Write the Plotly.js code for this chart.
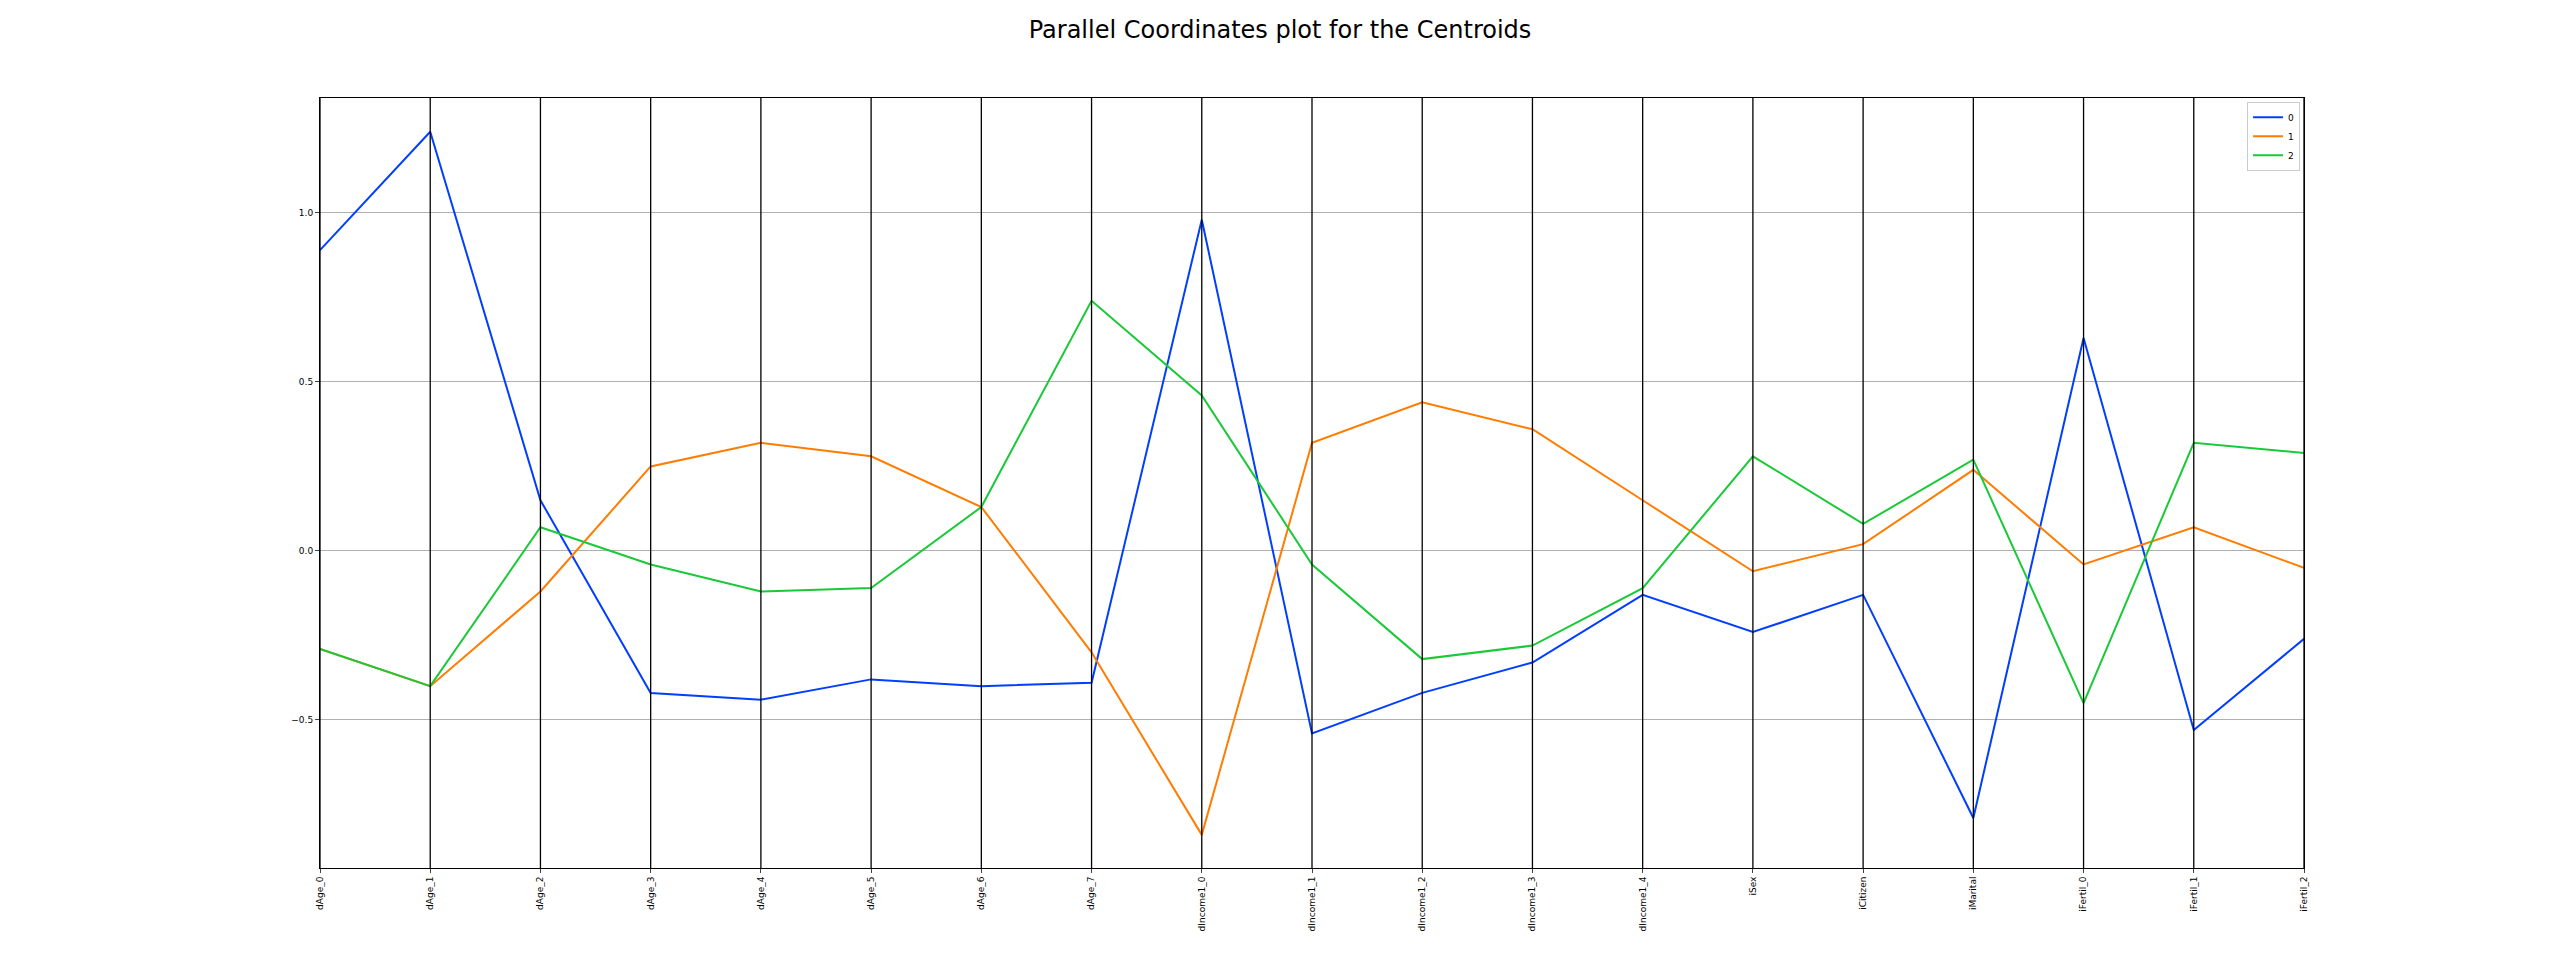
<!DOCTYPE html>
<html><head><meta charset="utf-8">
<script src="https://cdn.plot.ly/plotly-3.0.1.min.js"></script>
<style>body{margin:0;background:#fff}</style></head>
<body><div id="c" style="width:2560px;height:977px"></div>
<script>
const categories=["dAge_0","dAge_1","dAge_2","dAge_3","dAge_4","dAge_5","dAge_6","dAge_7","dIncome1_0","dIncome1_1","dIncome1_2","dIncome1_3","dIncome1_4","iSex","iCitizen","iMarital","iFertil_0","iFertil_1","iFertil_2"];
const cluster0=[0.89,1.24,0.15,-0.42,-0.44,-0.38,-0.40,-0.39,0.98,-0.54,-0.42,-0.33,-0.13,-0.24,-0.13,-0.79,0.63,-0.53,-0.26];
const cluster1=[-0.29,-0.40,-0.12,0.25,0.32,0.28,0.13,-0.30,-0.84,0.32,0.44,0.36,0.15,-0.06,0.02,0.24,-0.04,0.07,-0.05];
const cluster2=[-0.29,-0.40,0.07,-0.04,-0.12,-0.11,0.13,0.74,0.46,-0.04,-0.32,-0.28,-0.11,0.28,0.08,0.27,-0.45,0.32,0.29];
const names=["0","1","2"];
const colors=["#023eff","#ff7c00","#1ac938"];
const series=[cluster0,cluster1,cluster2];
const traces=series.map((s,i)=>({x:categories,y:s,type:"scatter",mode:"lines",name:names[i],line:{color:colors[i],width:2}}));
const shapes=categories.map(c=>({type:"line",xref:"x",yref:"paper",x0:c,x1:c,y0:0,y1:1,line:{color:"#000",width:1.3},layer:"above"}));
Plotly.newPlot("c",traces,{
 width:2560,height:977,paper_bgcolor:"#fff",plot_bgcolor:"#fff",
 margin:{l:320,r:256,t:98,b:109},
 title:{text:"Parallel Coordinates plot for the Centroids",font:{family:"DejaVu Sans",size:24,color:"#000"},x:0.5,y:0.97,yanchor:"middle"},
 font:{family:"DejaVu Sans",size:9,color:"#000"},
 xaxis:{type:"category",range:[0,18],showgrid:false,tickangle:-90,ticks:"outside",ticklen:4,showline:true,linecolor:"#000",mirror:true,zeroline:false},
 yaxis:{range:[-0.938,1.34],tickvals:[-0.5,0,0.5,1.0],ticktext:["−0.5","0.0","0.5","1.0"],showgrid:true,gridcolor:"#b0b0b0",ticks:"outside",ticklen:4,showline:true,linecolor:"#000",mirror:true,zeroline:false},
 shapes:shapes,
 legend:{x:0.998,y:0.995,xanchor:"right",yanchor:"top",bgcolor:"rgba(255,255,255,0.8)",bordercolor:"#ccc",borderwidth:1,font:{size:9}},
},{displayModeBar:false});
</script></body></html>
